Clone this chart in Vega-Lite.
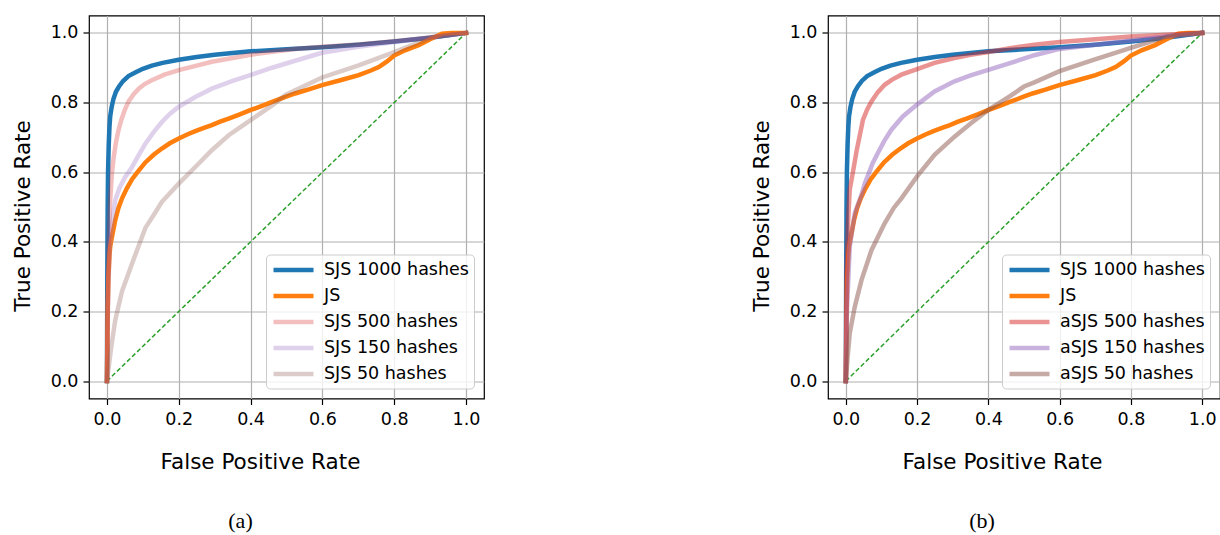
{
  "$schema": "https://vega.github.io/schema/vega-lite/v6.json",
  "background": "white",
  "padding": {"left": 11, "top": 14.5, "right": 0, "bottom": 0},
  "config": {
    "view": {"stroke": "black", "strokeWidth": 1.2},
    "axis": {
      "grid": true,
      "gridColor": "#b0b0b0",
      "gridWidth": 1.2,
      "domain": false,
      "tickColor": "black",
      "tickSize": 6,
      "tickWidth": 1.2,
      "labelFont": "DejaVu Sans",
      "labelFontSize": 17.5,
      "labelColor": "black",
      "titleFont": "DejaVu Sans",
      "titleFontSize": 21.5,
      "titleFontWeight": "normal",
      "titleColor": "black"
    },
    "axisX": {"labelPadding": 6},
    "axisY": {"labelPadding": 5},
    "legend": {
      "orient": "bottom-right",
      "offset": 10,
      "padding": 5,
      "fillColor": "rgba(255,255,255,0.8)",
      "strokeColor": "#cccccc",
      "cornerRadius": 4,
      "symbolType": "M-1,0H4",
      "symbolSize": 256,
      "symbolStrokeWidth": 4.5,
      "labelFont": "DejaVu Sans",
      "labelFontSize": 17.5,
      "labelColor": "black",
      "labelOffset": 32,
      "labelLimit": 400,
      "rowPadding": 6
    }
  },
  "datasets": {
    "chance": [
      {"fpr": 0, "tpr": 0},
      {"fpr": 1, "tpr": 1}
    ],
    "common": [
      {"series": "SJS 1000 hashes", "fpr": 0, "tpr": 0},
      {"series": "SJS 1000 hashes", "fpr": 0.001, "tpr": 0.3},
      {"series": "SJS 1000 hashes", "fpr": 0.002, "tpr": 0.5},
      {"series": "SJS 1000 hashes", "fpr": 0.003, "tpr": 0.6},
      {"series": "SJS 1000 hashes", "fpr": 0.005, "tpr": 0.68},
      {"series": "SJS 1000 hashes", "fpr": 0.007, "tpr": 0.73},
      {"series": "SJS 1000 hashes", "fpr": 0.009, "tpr": 0.76},
      {"series": "SJS 1000 hashes", "fpr": 0.013, "tpr": 0.787},
      {"series": "SJS 1000 hashes", "fpr": 0.018, "tpr": 0.81},
      {"series": "SJS 1000 hashes", "fpr": 0.025, "tpr": 0.831},
      {"series": "SJS 1000 hashes", "fpr": 0.034, "tpr": 0.847},
      {"series": "SJS 1000 hashes", "fpr": 0.045, "tpr": 0.862},
      {"series": "SJS 1000 hashes", "fpr": 0.06, "tpr": 0.876},
      {"series": "SJS 1000 hashes", "fpr": 0.08, "tpr": 0.887},
      {"series": "SJS 1000 hashes", "fpr": 0.1, "tpr": 0.897},
      {"series": "SJS 1000 hashes", "fpr": 0.125, "tpr": 0.906},
      {"series": "SJS 1000 hashes", "fpr": 0.155, "tpr": 0.914},
      {"series": "SJS 1000 hashes", "fpr": 0.2, "tpr": 0.923},
      {"series": "SJS 1000 hashes", "fpr": 0.25, "tpr": 0.931},
      {"series": "SJS 1000 hashes", "fpr": 0.3, "tpr": 0.937},
      {"series": "SJS 1000 hashes", "fpr": 0.35, "tpr": 0.942},
      {"series": "SJS 1000 hashes", "fpr": 0.4, "tpr": 0.947},
      {"series": "SJS 1000 hashes", "fpr": 0.5, "tpr": 0.953},
      {"series": "SJS 1000 hashes", "fpr": 0.6, "tpr": 0.959},
      {"series": "SJS 1000 hashes", "fpr": 0.7, "tpr": 0.966},
      {"series": "SJS 1000 hashes", "fpr": 0.8, "tpr": 0.975},
      {"series": "SJS 1000 hashes", "fpr": 0.9, "tpr": 0.986},
      {"series": "SJS 1000 hashes", "fpr": 1, "tpr": 1},
      {"series": "JS", "fpr": 0, "tpr": 0},
      {"series": "JS", "fpr": 0.002, "tpr": 0.2},
      {"series": "JS", "fpr": 0.004, "tpr": 0.3},
      {"series": "JS", "fpr": 0.007, "tpr": 0.36},
      {"series": "JS", "fpr": 0.009, "tpr": 0.386},
      {"series": "JS", "fpr": 0.014, "tpr": 0.414},
      {"series": "JS", "fpr": 0.023, "tpr": 0.462},
      {"series": "JS", "fpr": 0.032, "tpr": 0.497},
      {"series": "JS", "fpr": 0.042, "tpr": 0.525},
      {"series": "JS", "fpr": 0.055, "tpr": 0.553},
      {"series": "JS", "fpr": 0.07, "tpr": 0.58},
      {"series": "JS", "fpr": 0.085, "tpr": 0.6},
      {"series": "JS", "fpr": 0.107, "tpr": 0.628},
      {"series": "JS", "fpr": 0.13, "tpr": 0.65},
      {"series": "JS", "fpr": 0.153, "tpr": 0.668},
      {"series": "JS", "fpr": 0.175, "tpr": 0.683},
      {"series": "JS", "fpr": 0.2, "tpr": 0.697},
      {"series": "JS", "fpr": 0.225, "tpr": 0.709},
      {"series": "JS", "fpr": 0.246, "tpr": 0.718},
      {"series": "JS", "fpr": 0.27, "tpr": 0.727},
      {"series": "JS", "fpr": 0.292, "tpr": 0.735},
      {"series": "JS", "fpr": 0.315, "tpr": 0.745},
      {"series": "JS", "fpr": 0.339, "tpr": 0.754},
      {"series": "JS", "fpr": 0.37, "tpr": 0.766},
      {"series": "JS", "fpr": 0.399, "tpr": 0.778},
      {"series": "JS", "fpr": 0.43, "tpr": 0.79},
      {"series": "JS", "fpr": 0.46, "tpr": 0.802},
      {"series": "JS", "fpr": 0.497, "tpr": 0.816},
      {"series": "JS", "fpr": 0.524, "tpr": 0.826},
      {"series": "JS", "fpr": 0.56, "tpr": 0.837},
      {"series": "JS", "fpr": 0.599, "tpr": 0.85},
      {"series": "JS", "fpr": 0.65, "tpr": 0.864},
      {"series": "JS", "fpr": 0.701, "tpr": 0.879},
      {"series": "JS", "fpr": 0.735, "tpr": 0.892},
      {"series": "JS", "fpr": 0.757, "tpr": 0.902},
      {"series": "JS", "fpr": 0.78, "tpr": 0.918},
      {"series": "JS", "fpr": 0.8, "tpr": 0.935},
      {"series": "JS", "fpr": 0.83, "tpr": 0.95},
      {"series": "JS", "fpr": 0.868, "tpr": 0.965},
      {"series": "JS", "fpr": 0.9, "tpr": 0.982},
      {"series": "JS", "fpr": 0.933, "tpr": 0.998},
      {"series": "JS", "fpr": 0.96, "tpr": 1},
      {"series": "JS", "fpr": 1, "tpr": 1}
    ],
    "plain": [
      {"series": "SJS 500 hashes", "fpr": 0, "tpr": 0},
      {"series": "SJS 500 hashes", "fpr": 0.002, "tpr": 0.2},
      {"series": "SJS 500 hashes", "fpr": 0.005, "tpr": 0.4},
      {"series": "SJS 500 hashes", "fpr": 0.009, "tpr": 0.52},
      {"series": "SJS 500 hashes", "fpr": 0.014, "tpr": 0.6},
      {"series": "SJS 500 hashes", "fpr": 0.019, "tpr": 0.645},
      {"series": "SJS 500 hashes", "fpr": 0.025, "tpr": 0.685},
      {"series": "SJS 500 hashes", "fpr": 0.032, "tpr": 0.72},
      {"series": "SJS 500 hashes", "fpr": 0.04, "tpr": 0.75},
      {"series": "SJS 500 hashes", "fpr": 0.05, "tpr": 0.78},
      {"series": "SJS 500 hashes", "fpr": 0.06, "tpr": 0.803},
      {"series": "SJS 500 hashes", "fpr": 0.075, "tpr": 0.825},
      {"series": "SJS 500 hashes", "fpr": 0.09, "tpr": 0.841},
      {"series": "SJS 500 hashes", "fpr": 0.105, "tpr": 0.853},
      {"series": "SJS 500 hashes", "fpr": 0.125, "tpr": 0.864},
      {"series": "SJS 500 hashes", "fpr": 0.16, "tpr": 0.88},
      {"series": "SJS 500 hashes", "fpr": 0.2, "tpr": 0.893},
      {"series": "SJS 500 hashes", "fpr": 0.25, "tpr": 0.906},
      {"series": "SJS 500 hashes", "fpr": 0.292, "tpr": 0.917},
      {"series": "SJS 500 hashes", "fpr": 0.35, "tpr": 0.928},
      {"series": "SJS 500 hashes", "fpr": 0.4, "tpr": 0.937},
      {"series": "SJS 500 hashes", "fpr": 0.46, "tpr": 0.946},
      {"series": "SJS 500 hashes", "fpr": 0.524, "tpr": 0.954},
      {"series": "SJS 500 hashes", "fpr": 0.6, "tpr": 0.96},
      {"series": "SJS 500 hashes", "fpr": 0.7, "tpr": 0.967},
      {"series": "SJS 500 hashes", "fpr": 0.8, "tpr": 0.976},
      {"series": "SJS 500 hashes", "fpr": 0.9, "tpr": 0.987},
      {"series": "SJS 500 hashes", "fpr": 1, "tpr": 1},
      {"series": "SJS 150 hashes", "fpr": 0, "tpr": 0},
      {"series": "SJS 150 hashes", "fpr": 0.002, "tpr": 0.15},
      {"series": "SJS 150 hashes", "fpr": 0.004, "tpr": 0.28},
      {"series": "SJS 150 hashes", "fpr": 0.008, "tpr": 0.38},
      {"series": "SJS 150 hashes", "fpr": 0.014, "tpr": 0.45},
      {"series": "SJS 150 hashes", "fpr": 0.023, "tpr": 0.52},
      {"series": "SJS 150 hashes", "fpr": 0.035, "tpr": 0.555},
      {"series": "SJS 150 hashes", "fpr": 0.05, "tpr": 0.585},
      {"series": "SJS 150 hashes", "fpr": 0.07, "tpr": 0.615},
      {"series": "SJS 150 hashes", "fpr": 0.09, "tpr": 0.652},
      {"series": "SJS 150 hashes", "fpr": 0.107, "tpr": 0.682},
      {"series": "SJS 150 hashes", "fpr": 0.13, "tpr": 0.715},
      {"series": "SJS 150 hashes", "fpr": 0.153, "tpr": 0.744},
      {"series": "SJS 150 hashes", "fpr": 0.175, "tpr": 0.767},
      {"series": "SJS 150 hashes", "fpr": 0.2, "tpr": 0.788},
      {"series": "SJS 150 hashes", "fpr": 0.246, "tpr": 0.816},
      {"series": "SJS 150 hashes", "fpr": 0.292, "tpr": 0.84},
      {"series": "SJS 150 hashes", "fpr": 0.35, "tpr": 0.862},
      {"series": "SJS 150 hashes", "fpr": 0.399, "tpr": 0.879},
      {"series": "SJS 150 hashes", "fpr": 0.46, "tpr": 0.9},
      {"series": "SJS 150 hashes", "fpr": 0.524, "tpr": 0.92},
      {"series": "SJS 150 hashes", "fpr": 0.599, "tpr": 0.943},
      {"series": "SJS 150 hashes", "fpr": 0.7, "tpr": 0.96},
      {"series": "SJS 150 hashes", "fpr": 0.8, "tpr": 0.974},
      {"series": "SJS 150 hashes", "fpr": 0.9, "tpr": 0.987},
      {"series": "SJS 150 hashes", "fpr": 1, "tpr": 1},
      {"series": "SJS 50 hashes", "fpr": 0, "tpr": 0},
      {"series": "SJS 50 hashes", "fpr": 0.005, "tpr": 0.041},
      {"series": "SJS 50 hashes", "fpr": 0.012, "tpr": 0.098},
      {"series": "SJS 50 hashes", "fpr": 0.023, "tpr": 0.175},
      {"series": "SJS 50 hashes", "fpr": 0.042, "tpr": 0.258},
      {"series": "SJS 50 hashes", "fpr": 0.07, "tpr": 0.338},
      {"series": "SJS 50 hashes", "fpr": 0.107, "tpr": 0.44},
      {"series": "SJS 50 hashes", "fpr": 0.135, "tpr": 0.485},
      {"series": "SJS 50 hashes", "fpr": 0.153, "tpr": 0.515},
      {"series": "SJS 50 hashes", "fpr": 0.2, "tpr": 0.567},
      {"series": "SJS 50 hashes", "fpr": 0.246, "tpr": 0.615},
      {"series": "SJS 50 hashes", "fpr": 0.292, "tpr": 0.663},
      {"series": "SJS 50 hashes", "fpr": 0.339, "tpr": 0.706},
      {"series": "SJS 50 hashes", "fpr": 0.399, "tpr": 0.749},
      {"series": "SJS 50 hashes", "fpr": 0.46, "tpr": 0.792},
      {"series": "SJS 50 hashes", "fpr": 0.497, "tpr": 0.822},
      {"series": "SJS 50 hashes", "fpr": 0.524, "tpr": 0.835},
      {"series": "SJS 50 hashes", "fpr": 0.599, "tpr": 0.872},
      {"series": "SJS 50 hashes", "fpr": 0.701, "tpr": 0.907},
      {"series": "SJS 50 hashes", "fpr": 0.8, "tpr": 0.945},
      {"series": "SJS 50 hashes", "fpr": 0.905, "tpr": 0.988},
      {"series": "SJS 50 hashes", "fpr": 1, "tpr": 1}
    ],
    "adjusted": [
      {"series": "aSJS 500 hashes", "fpr": 0, "tpr": 0},
      {"series": "aSJS 500 hashes", "fpr": 0.002, "tpr": 0.3},
      {"series": "aSJS 500 hashes", "fpr": 0.006, "tpr": 0.45},
      {"series": "aSJS 500 hashes", "fpr": 0.011, "tpr": 0.55},
      {"series": "aSJS 500 hashes", "fpr": 0.02, "tpr": 0.6},
      {"series": "aSJS 500 hashes", "fpr": 0.03, "tpr": 0.66},
      {"series": "aSJS 500 hashes", "fpr": 0.048, "tpr": 0.75},
      {"series": "aSJS 500 hashes", "fpr": 0.06, "tpr": 0.78},
      {"series": "aSJS 500 hashes", "fpr": 0.072, "tpr": 0.803},
      {"series": "aSJS 500 hashes", "fpr": 0.09, "tpr": 0.83},
      {"series": "aSJS 500 hashes", "fpr": 0.109, "tpr": 0.851},
      {"series": "aSJS 500 hashes", "fpr": 0.13, "tpr": 0.866},
      {"series": "aSJS 500 hashes", "fpr": 0.156, "tpr": 0.88},
      {"series": "aSJS 500 hashes", "fpr": 0.2, "tpr": 0.896},
      {"series": "aSJS 500 hashes", "fpr": 0.249, "tpr": 0.914},
      {"series": "aSJS 500 hashes", "fpr": 0.305, "tpr": 0.928},
      {"series": "aSJS 500 hashes", "fpr": 0.35, "tpr": 0.937},
      {"series": "aSJS 500 hashes", "fpr": 0.4, "tpr": 0.945},
      {"series": "aSJS 500 hashes", "fpr": 0.46, "tpr": 0.956},
      {"series": "aSJS 500 hashes", "fpr": 0.529, "tpr": 0.966},
      {"series": "aSJS 500 hashes", "fpr": 0.6, "tpr": 0.974},
      {"series": "aSJS 500 hashes", "fpr": 0.7, "tpr": 0.982},
      {"series": "aSJS 500 hashes", "fpr": 0.8, "tpr": 0.99},
      {"series": "aSJS 500 hashes", "fpr": 0.9, "tpr": 0.995},
      {"series": "aSJS 500 hashes", "fpr": 1, "tpr": 1},
      {"series": "aSJS 150 hashes", "fpr": 0, "tpr": 0},
      {"series": "aSJS 150 hashes", "fpr": 0.003, "tpr": 0.2},
      {"series": "aSJS 150 hashes", "fpr": 0.011, "tpr": 0.386},
      {"series": "aSJS 150 hashes", "fpr": 0.025, "tpr": 0.482},
      {"series": "aSJS 150 hashes", "fpr": 0.044, "tpr": 0.535},
      {"series": "aSJS 150 hashes", "fpr": 0.053, "tpr": 0.567},
      {"series": "aSJS 150 hashes", "fpr": 0.062, "tpr": 0.59},
      {"series": "aSJS 150 hashes", "fpr": 0.075, "tpr": 0.625},
      {"series": "aSJS 150 hashes", "fpr": 0.09, "tpr": 0.655},
      {"series": "aSJS 150 hashes", "fpr": 0.108, "tpr": 0.69},
      {"series": "aSJS 150 hashes", "fpr": 0.128, "tpr": 0.722},
      {"series": "aSJS 150 hashes", "fpr": 0.16, "tpr": 0.76},
      {"series": "aSJS 150 hashes", "fpr": 0.2, "tpr": 0.794},
      {"series": "aSJS 150 hashes", "fpr": 0.249, "tpr": 0.832},
      {"series": "aSJS 150 hashes", "fpr": 0.305, "tpr": 0.861},
      {"series": "aSJS 150 hashes", "fpr": 0.35, "tpr": 0.878},
      {"series": "aSJS 150 hashes", "fpr": 0.4, "tpr": 0.894},
      {"series": "aSJS 150 hashes", "fpr": 0.463, "tpr": 0.914},
      {"series": "aSJS 150 hashes", "fpr": 0.529, "tpr": 0.936},
      {"series": "aSJS 150 hashes", "fpr": 0.6, "tpr": 0.954},
      {"series": "aSJS 150 hashes", "fpr": 0.7, "tpr": 0.966},
      {"series": "aSJS 150 hashes", "fpr": 0.8, "tpr": 0.978},
      {"series": "aSJS 150 hashes", "fpr": 0.9, "tpr": 0.99},
      {"series": "aSJS 150 hashes", "fpr": 1, "tpr": 1},
      {"series": "aSJS 50 hashes", "fpr": 0, "tpr": 0},
      {"series": "aSJS 50 hashes", "fpr": 0.005, "tpr": 0.069},
      {"series": "aSJS 50 hashes", "fpr": 0.011, "tpr": 0.137},
      {"series": "aSJS 50 hashes", "fpr": 0.025, "tpr": 0.213},
      {"series": "aSJS 50 hashes", "fpr": 0.044, "tpr": 0.29},
      {"series": "aSJS 50 hashes", "fpr": 0.072, "tpr": 0.376},
      {"series": "aSJS 50 hashes", "fpr": 0.109, "tpr": 0.453},
      {"series": "aSJS 50 hashes", "fpr": 0.135, "tpr": 0.498},
      {"series": "aSJS 50 hashes", "fpr": 0.156, "tpr": 0.525},
      {"series": "aSJS 50 hashes", "fpr": 0.2, "tpr": 0.588},
      {"series": "aSJS 50 hashes", "fpr": 0.249, "tpr": 0.65},
      {"series": "aSJS 50 hashes", "fpr": 0.305, "tpr": 0.702},
      {"series": "aSJS 50 hashes", "fpr": 0.352, "tpr": 0.741},
      {"series": "aSJS 50 hashes", "fpr": 0.4, "tpr": 0.779},
      {"series": "aSJS 50 hashes", "fpr": 0.463, "tpr": 0.82},
      {"series": "aSJS 50 hashes", "fpr": 0.5, "tpr": 0.846},
      {"series": "aSJS 50 hashes", "fpr": 0.529, "tpr": 0.858},
      {"series": "aSJS 50 hashes", "fpr": 0.6, "tpr": 0.89},
      {"series": "aSJS 50 hashes", "fpr": 0.697, "tpr": 0.923},
      {"series": "aSJS 50 hashes", "fpr": 0.8, "tpr": 0.957},
      {"series": "aSJS 50 hashes", "fpr": 0.902, "tpr": 0.99},
      {"series": "aSJS 50 hashes", "fpr": 1, "tpr": 1}
    ]
  },
  "bounds": "flush",
  "spacing": 344,
  "resolve": {"scale": {"color": "independent"}},
  "hconcat": [
    {
      "width": 395,
      "height": 383,
      "title": {"text": "(a)", "orient": "bottom", "anchor": "middle", "frame": "group", "dx": -46, "offset": 38, "font": "Liberation Serif", "fontSize": 22, "fontWeight": "normal", "color": "black"},
      "encoding": {
        "x": {"field": "fpr", "type": "quantitative", "scale": {"domain": [-0.05, 1.05], "nice": false, "zero": false},
              "axis": {"title": "False Positive Rate", "values": [0, 0.2, 0.4, 0.6, 0.8, 1], "format": ".1f", "titleX": 171, "titleY": 64, "titleAlign": "center", "titleBaseline": "middle"}},
        "y": {"field": "tpr", "type": "quantitative", "scale": {"domain": [-0.05, 1.05], "nice": false, "zero": false},
              "axis": {"title": "True Positive Rate", "values": [0, 0.2, 0.4, 0.6, 0.8, 1], "format": ".1f", "titleX": -65.5, "titleY": 200, "titleAlign": "center", "titleBaseline": "middle", "titleAngle": -90}}
      },
      "layer": [
        {"data": {"name": "chance"}, "mark": {"type": "line", "color": "#2ca02c", "strokeWidth": 1.5, "strokeDash": [4.5, 2.5]}},
        {"data": {"name": "common"}, "mark": {"type": "line", "strokeWidth": 4.5, "strokeCap": "square"},
         "encoding": {
           "color": {"field": "series", "type": "nominal",
                     "scale": {"domain": ["SJS 1000 hashes", "JS", "SJS 500 hashes", "SJS 150 hashes", "SJS 50 hashes"],
                               "range": ["#1f77b4", "#ff7f0e", "rgba(214,39,40,0.3)", "rgba(148,103,189,0.3)", "rgba(140,86,75,0.3)"]},
                     "legend": {"title": null}}
         }},
        {"data": {"name": "plain"}, "mark": {"type": "line", "strokeWidth": 4.5, "strokeCap": "square"},
         "encoding": {
           "color": {"field": "series", "type": "nominal"}
         }}
      ]
    },
    {
      "width": 392,
      "height": 383,
      "title": {"text": "(b)", "orient": "bottom", "anchor": "middle", "frame": "group", "dx": -42, "offset": 38, "font": "Liberation Serif", "fontSize": 22, "fontWeight": "normal", "color": "black"},
      "encoding": {
        "x": {"field": "fpr", "type": "quantitative", "scale": {"domain": [-0.05, 1.05], "nice": false, "zero": false},
              "axis": {"title": "False Positive Rate", "values": [0, 0.2, 0.4, 0.6, 0.8, 1], "format": ".1f", "titleX": 174, "titleY": 64, "titleAlign": "center", "titleBaseline": "middle"}},
        "y": {"field": "tpr", "type": "quantitative", "scale": {"domain": [-0.05, 1.05], "nice": false, "zero": false},
              "axis": {"title": "True Positive Rate", "values": [0, 0.2, 0.4, 0.6, 0.8, 1], "format": ".1f", "titleX": -65.5, "titleY": 200, "titleAlign": "center", "titleBaseline": "middle", "titleAngle": -90}}
      },
      "layer": [
        {"data": {"name": "chance"}, "mark": {"type": "line", "color": "#2ca02c", "strokeWidth": 1.5, "strokeDash": [4.5, 2.5]}},
        {"data": {"name": "common"}, "mark": {"type": "line", "strokeWidth": 4.5, "strokeCap": "square"},
         "encoding": {
           "color": {"field": "series", "type": "nominal",
                     "scale": {"domain": ["SJS 1000 hashes", "JS", "aSJS 500 hashes", "aSJS 150 hashes", "aSJS 50 hashes"],
                               "range": ["#1f77b4", "#ff7f0e", "rgba(214,39,40,0.5)", "rgba(148,103,189,0.5)", "rgba(140,86,75,0.5)"]},
                     "legend": {"title": null}}
         }},
        {"data": {"name": "adjusted"}, "mark": {"type": "line", "strokeWidth": 4.5, "strokeCap": "square"},
         "encoding": {
           "color": {"field": "series", "type": "nominal"}
         }}
      ]
    }
  ]
}
